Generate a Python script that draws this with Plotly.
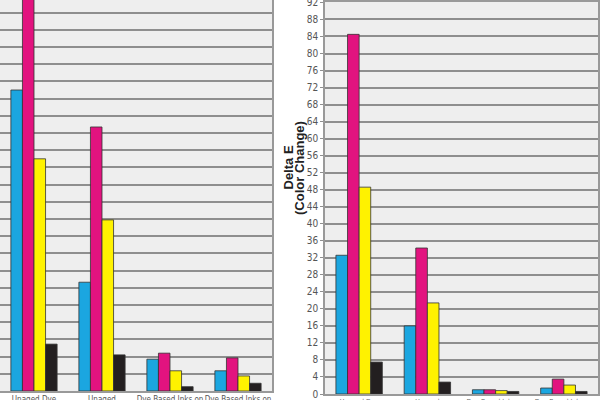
import plotly.graph_objects as go

categories = ["Unaged Dye<br>Based Inks", "Unaged<br>Pigment Inks", "Dye Based Inks on<br>Fuji Paper", "Dye Based Inks on<br>Epson Paper"]
inks = ["Cyan", "Magenta", "Yellow", "Black"]
ink_colors = ["#1ba6e0", "#e2137f", "#fff200", "#231f20"]

left_cyan = [70.0, 25.3, 7.4, 4.7]
left_magenta = [96.0, 61.4, 8.8, 7.7]
left_yellow = [54.0, 39.8, 4.7, 3.5]
left_black = [10.9, 8.4, 1.0, 1.8]

right_cyan = [32.6, 16.0, 1.0, 1.4]
right_magenta = [84.5, 34.3, 1.0, 3.5]
right_yellow = [48.6, 21.4, 0.8, 2.1]
right_black = [7.5, 2.8, 0.6, 0.6]

y_ticks = list(range(0, 93, 4))

left_series = [left_cyan, left_magenta, left_yellow, left_black]
right_series = [right_cyan, right_magenta, right_yellow, right_black]

fig = go.Figure()
for name, col, vals in zip(inks, ink_colors, left_series):
    fig.add_trace(go.Bar(x=categories, y=vals, name=name, marker=dict(color=col, line=dict(color="#333333", width=0.8)),
                         xaxis="x", yaxis="y", showlegend=False))
for name, col, vals in zip(inks, ink_colors, right_series):
    fig.add_trace(go.Bar(x=categories, y=vals, name=name, marker=dict(color=col, line=dict(color="#333333", width=0.8)),
                         xaxis="x2", yaxis="y2", showlegend=False))

W, H = 600, 400
grid = dict(showgrid=True, gridcolor="#8e8e8e", gridwidth=2, dtick=4, tick0=0, zeroline=False)
title_font = dict(size=13, color="#222222", family="Liberation Sans, Arial, sans-serif")
label_font = "DejaVu Sans Condensed, Liberation Sans Narrow, Liberation Sans, sans-serif"

fig.update_layout(
    width=W, height=H, template="none",
    margin=dict(l=0, r=0, t=0, b=0),
    paper_bgcolor="white", plot_bgcolor="#eeeeee",
    barmode="group", bargap=0.32, bargroupgap=0,
    font=dict(family="Liberation Sans, sans-serif", size=9, color="#555555"),
    xaxis=dict(domain=[0, 272 / W], anchor="y", showline=True, linecolor="#999999", linewidth=1.5, mirror=True,
               ticks="", ticklen=0, automargin=False, tickfont=dict(size=8, color="#555555", family=label_font),
               tickangle=0),
    yaxis=dict(domain=[9 / H, 1], anchor="x", range=[0, 391 / 4.3], showticklabels=False, ticks="",
               showline=True, linecolor="#999999", linewidth=1.5, mirror=True, automargin=False, **grid),
    xaxis2=dict(domain=[325 / W, 598 / W], anchor="y2", showline=True, linecolor="#999999", linewidth=1.5, mirror=True,
                ticks="", ticklen=0, automargin=False, tickfont=dict(size=7, color="#666666", family=label_font),
                tickangle=0),
    yaxis2=dict(domain=[6 / H, 398 / H], anchor="x2", range=[0, 92.1], tickvals=y_ticks,
                ticktext=[str(v) for v in y_ticks], ticks="outside", ticklen=3, tickcolor="#8e8e8e",
                ticklabeloverflow="allow",
                showline=True, linecolor="#999999", linewidth=1.5, mirror=True, automargin=False,
                tickfont=dict(size=10, color="#555555", family=label_font), **grid),
    annotations=[
        dict(text="<b>Delta E</b>", x=288.5 / W, y=1 - 168 / H, xref="paper", yref="paper",
             textangle=-90, showarrow=False, font=title_font, xanchor="center", yanchor="middle"),
        dict(text="<b>(Color Change)</b>", x=300 / W, y=1 - 168 / H, xref="paper", yref="paper",
             textangle=-90, showarrow=False, font=title_font, xanchor="center", yanchor="middle"),
    ],
)

fig.write_html("out.html", config={"displayModeBar": False},
               post_script="document.body.style.margin='0';document.body.style.overflow='hidden';")
